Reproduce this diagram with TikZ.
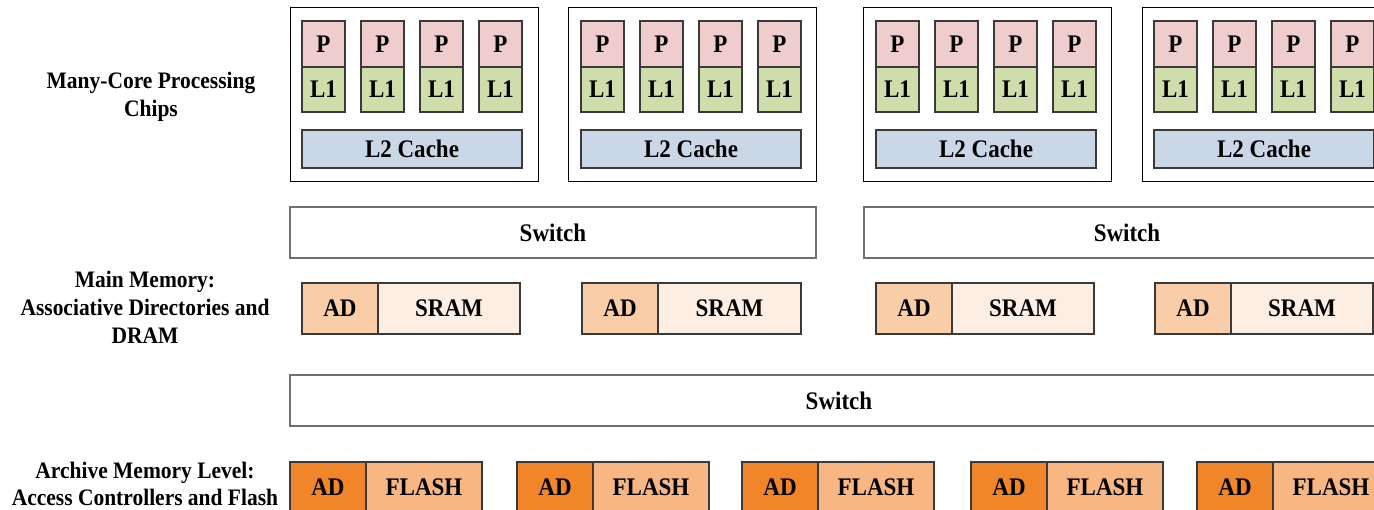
\documentclass[tikz,border=0pt]{standalone}
\usepackage{fontspec}
\usepackage{graphicx}
\setmainfont{Liberation Serif}
\definecolor{pfill}{HTML}{EFCDCC}
\definecolor{lonefill}{HTML}{CFDDAB}
\definecolor{ltwofill}{HTML}{CAD7E6}
\definecolor{adlight}{HTML}{F9CDA7}
\definecolor{sramfill}{HTML}{FDEEE3}
\definecolor{addark}{HTML}{F0852A}
\definecolor{flashfill}{HTML}{F7B682}
\definecolor{switchline}{HTML}{707070}
\definecolor{cellline}{HTML}{3A3A3A}
% narrow, tall bold type
\newcommand\tallbox[1]{\scalebox{0.91}[1]{#1}}
\tikzset{
  blockbase/.style={rectangle, inner sep=0pt, outer sep=0pt, line width=1.15pt,
    font=\fontsize{25.3}{28}\selectfont\bfseries},
  chipbox/.style={blockbase, draw=black, line width=1pt, fill=white},
  pcell/.style={blockbase, draw=cellline, fill=pfill},
  lonecell/.style={blockbase, draw=cellline, fill=lonefill},
  ltwocell/.style={blockbase, draw=cellline, fill=ltwofill},
  switchbox/.style={blockbase, draw=switchline, line width=1.3pt, fill=white},
  adlightcell/.style={blockbase, draw=cellline, fill=adlight},
  sramcell/.style={blockbase, draw=cellline, fill=sramfill},
  addarkcell/.style={blockbase, draw=cellline, fill=addark},
  flashcell/.style={blockbase, draw=cellline, fill=flashfill},
  levelline/.style={anchor=base, inner sep=0pt,
    font=\fontsize{23.6}{28}\selectfont\bfseries}
}
% rectangle node from its corners: name, x1, y1, x2, y2, style, text
\newcommand\blk[7]{%
  \node[#6, minimum width={#4-#2}, minimum height={#5-#3}] (#1)
    at ({(#2+#4)/2},{(#3+#5)/2}) {\tallbox{#7}};}
% one line of a level label, placed by its baseline
\newcommand\lvl[4]{\node[levelline] (#1) at (#2,#3) {\tallbox{#4}};}
\begin{document}
\begin{tikzpicture}[x=1pt, y=-1pt]
\clip (0,0) rectangle (1374,510);
\fill[white] (0,0) rectangle (1374,510);

% level labels
\lvl{lblchipsA}{151}{89}{Many-Core Processing}
\lvl{lblchipsB}{151}{117}{Chips}
\lvl{lblmainA}{145}{288}{Main Memory:}
\lvl{lblmainB}{145}{316}{Associative Directories and}
\lvl{lblmainC}{145}{344}{DRAM}
\lvl{lblarchA}{145}{478.5}{Archive Memory Level:}
\lvl{lblarchB}{145}{505.5}{Access Controllers and Flash}

% processing chips: four cores with private L1 and a shared L2
\foreach \c/\sx/\cx in {1/290/302, 2/568/581, 3/863/876, 4/1142/1154} {
  \pgfmathsetmacro\ex{\sx+248}
  \blk{chip\c}{\sx}{8}{\ex}{182}{chipbox}{}
  \foreach \j in {1,...,4} {
    \pgfmathsetmacro\px{\cx+59*(\j-1)}
    \pgfmathsetmacro\qx{\px+43}
    \blk{p\c\j}{\px}{21}{\qx}{67}{pcell}{P}
    \blk{lone\c\j}{\px}{67}{\qx}{112}{lonecell}{L1}
  }
  \pgfmathsetmacro\lx{\cx+220}
  \blk{ltwo\c}{\cx}{130}{\lx}{168}{ltwocell}{L2 Cache}
}

% first switch level
\blk{switchA}{290}{207}{816}{258}{switchbox}{Switch}
\blk{switchB}{864}{207}{1390}{258}{switchbox}{Switch}

% main memory: associative directory plus SRAM
\foreach \m/\ax/\bx/\ex in {1/302/378/520, 2/582/658/801, 3/876/952/1094, 4/1155/1231/1373} {
  \blk{ad\m}{\ax}{283}{\bx}{334}{adlightcell}{AD}
  \blk{sram\m}{\bx}{283}{\ex}{334}{sramcell}{SRAM}
}

% second switch level
\blk{switchC}{290}{375}{1388}{426}{switchbox}{Switch}

% archive level: access controller plus flash
\foreach \f/\ax in {1/290, 2/517, 3/742, 4/971, 5/1197} {
  \pgfmathsetmacro\bx{\ax+76}
  \pgfmathsetmacro\ex{\ax+192}
  \blk{ac\f}{\ax}{462}{\bx}{513}{addarkcell}{AD}
  \blk{flash\f}{\bx}{462}{\ex}{513}{flashcell}{FLASH}
}
\end{tikzpicture}
\end{document}
